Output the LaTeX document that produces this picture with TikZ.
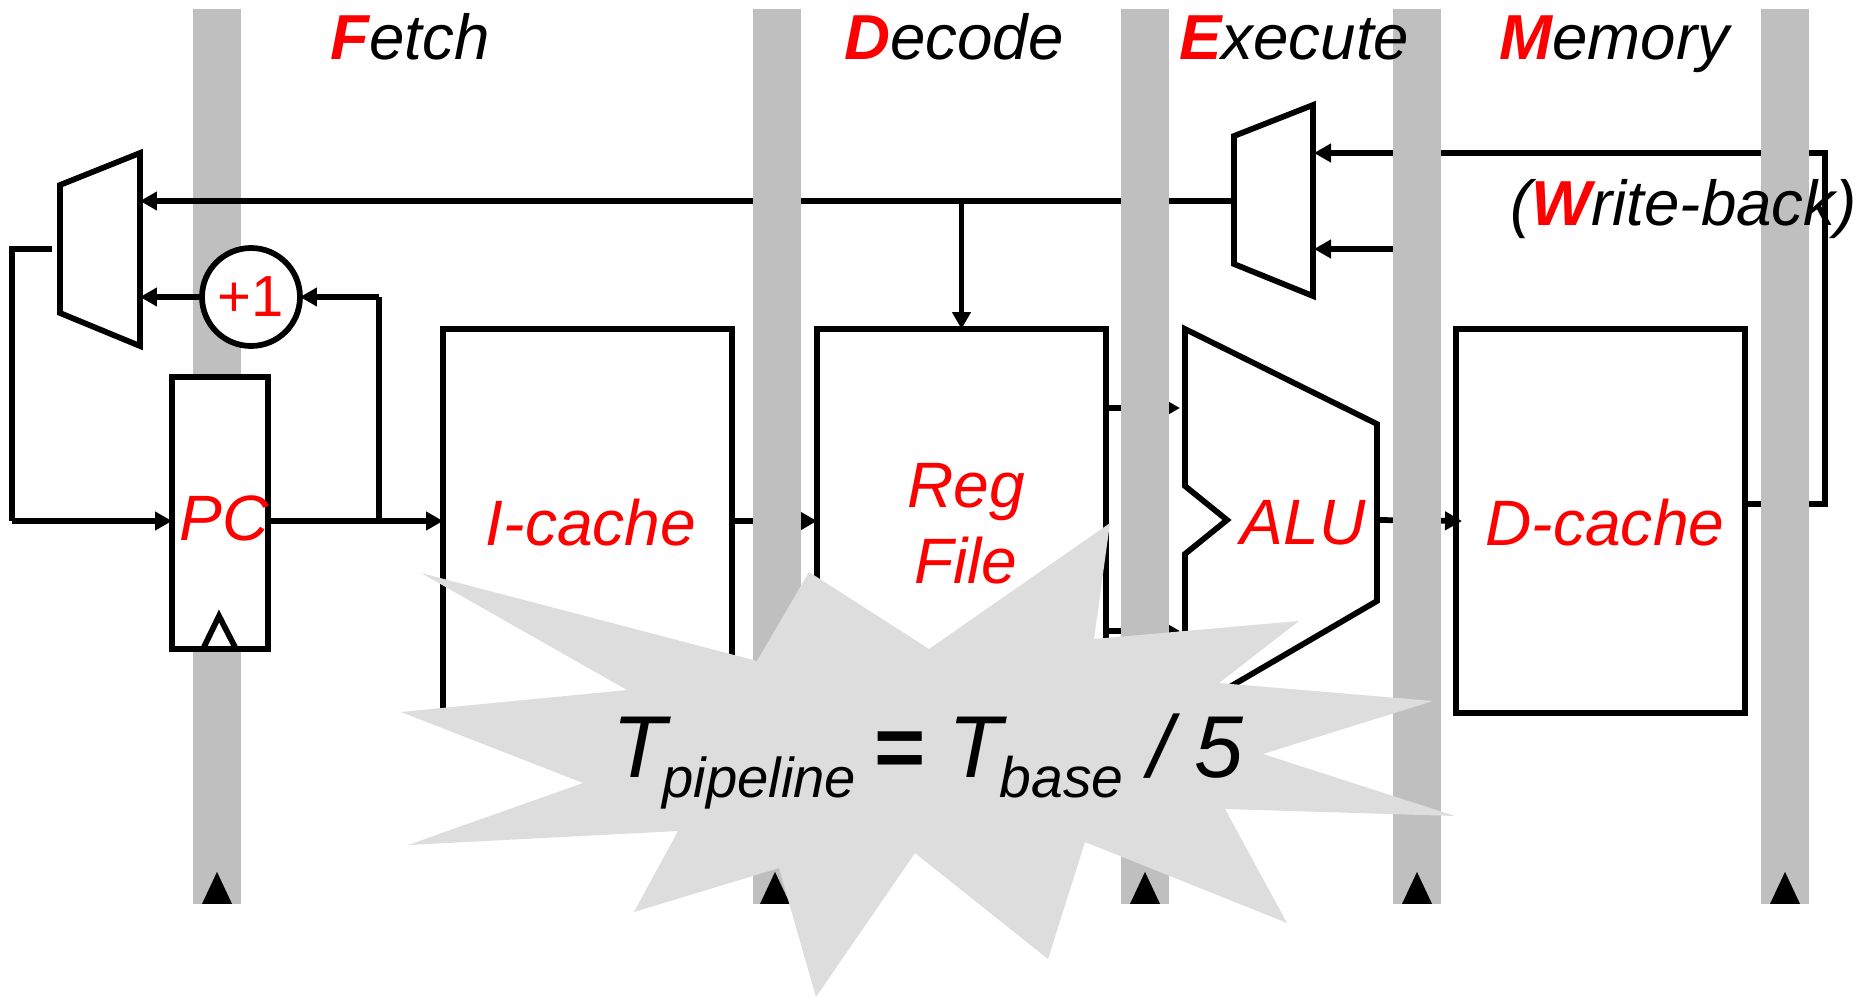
\documentclass[tikz,border=0pt]{standalone}
\usepackage{fontspec}
\setmainfont{Liberation Sans}
\usetikzlibrary{arrows.meta}
\definecolor{latchgray}{HTML}{BFBFBF}
\definecolor{burstgray}{HTML}{DDDDDD}
\tikzset{
  >={Triangle[length=0.34cm,width=0.36cm]},
  wire/.style={draw, line width=0.115cm},
  block/.style={rectangle, draw=black, fill=white, line width=0.115cm, inner sep=0pt, outer sep=0pt},
  cachebox/.style={block, minimum width=5.78cm, minimum height=7.68cm},
  blocktext/.style={text=red, inner sep=0pt, align=center, font=\fontsize{36.5}{43.5}\selectfont\itshape},
  latch/.style={rectangle, fill=latchgray, inner sep=0pt, outer sep=0pt, minimum width=0.96cm, minimum height=17.9cm},
  stage/.style={anchor=base west, inner sep=0pt, font=\fontsize{36.2}{43}\selectfont\itshape},
  muxshape/.style={draw, fill=white, line width=0.115cm, line join=miter}
}
\newcommand{\stageletter}[1]{\textcolor{red}{\bfseries #1}}
\begin{document}
\begin{tikzpicture}[x=0.02cm,y=-0.02cm]
    \useasboundingbox (0,0) rectangle (1860,997);
    % First latch sits under the PC
    \node (latchf) [latch] at (217,456.5) {};
    % Muxes
    \draw [muxshape] (60,185) -- (140,153) -- (140,346) -- (60,313) -- cycle;
    \draw [muxshape] (1234,136) -- (1313,105) -- (1313,296) -- (1234,264) -- cycle;
    \coordinate (pcmuxout) at (52,249);
    \coordinate (pcmuxtop) at (140,201);
    \coordinate (pcmuxlow) at (140,297);
    \coordinate (wbmuxout) at (1234,201);
    \coordinate (wbmuxtop) at (1314,153);
    \coordinate (wbmuxlow) at (1314,249);
    \coordinate (wbstub) at (1418,249);
    \coordinate (wbbottom) at (1825,504);
    \coordinate (wbtop) at (1825,153);
    \coordinate (pcloop) at (12,249);
    \coordinate (nextpc) at (379,297);
    % Blocks
    \node (pc) [block, minimum width=1.92cm, minimum height=5.44cm] at (220,513) {};
    \node (pctext) [blocktext] at (224,518) {PC};
    \draw [line width=0.115cm] (203,649) -- (219,616) -- (236,649);
    \node (plusone) [circle, draw, fill=white, line width=0.115cm, minimum size=1.96cm, inner sep=0pt, outer sep=0pt,
                     text=red, font=\fontsize{33}{40}\selectfont] at (251,297) {+1};
    \node (icache) [cachebox] at (587.5,521) {};
    \node (icachetext) [blocktext] at (591,523) {I-cache};
    \node (regfile) [cachebox] at (961.5,521) {};
    \node (regfiletext) [blocktext] at (966,524) {Reg\\File};
    \node (dcache) [cachebox] at (1600.5,521) {};
    \node (dcachetext) [blocktext] at (1605,523) {D-cache};
    \draw [muxshape] (1185,329) -- (1377,424) -- (1377,601) -- (1185,713) -- (1185,554) -- (1227,520) -- (1185,486) -- cycle;
    \node (alu) [blocktext] at (1303,523) {ALU};
    \coordinate (aluone) at (1180,408);
    \coordinate (alutwo) at (1180,631);
    \coordinate (aluout) at (1378,520);
    % Connectors
    \draw [wire] (pcmuxout) -- (pcloop) -- (pcloop |- icache) edge [wire, ->] (pc.west |- icache);
    \draw [wire, ->] (pc.east |- icache) -- (icache.west);
    \draw [wire] (nextpc |- icache) -- (nextpc);
    \draw [wire, ->] (nextpc) -- (plusone.east);
    \draw [wire, ->] (plusone.west) -- (pcmuxlow);
    \draw [wire, ->] (wbmuxout) -- (pcmuxtop);
    \draw [wire, ->] (regfile.north |- wbmuxout) -- (regfile.north);
    \draw [wire, ->] (icache.east) -- (regfile.west);
    \draw [wire, ->] (regfile.east |- aluone) -- (aluone);
    \draw [wire, ->] (regfile.east |- alutwo) -- (alutwo);
    \draw [wire, ->, shorten >=-0.12cm] (aluout) -- (dcache.west);
    \draw [wire, ->] (dcache.east |- wbbottom) -- (wbbottom) -- (wbtop) -- (wbmuxtop);
    \draw [wire, ->] (wbstub) -- (wbmuxlow);
    % Other latches
    \node (latchd) [latch] at (777,456.5) {};
    \node (latche) [latch] at (1145,456.5) {};
    \node (latchm) [latch] at (1417,456.5) {};
    \node (latchw) [latch] at (1785,456.5) {};
    \fill (latchf.south) ++(-15,0) -- ++(15,-32) -- ++(15,32) -- cycle;
    \fill (latchd.south) ++(-17,0) -- ++(15,-32) -- ++(15,32) -- cycle;
    \fill (latche.south) ++(-15,0) -- ++(15,-32) -- ++(15,32) -- cycle;
    \fill (latchm.south) ++(-15,0) -- ++(15,-32) -- ++(15,32) -- cycle;
    \fill (latchw.south) ++(-15,0) -- ++(15,-32) -- ++(15,32) -- cycle;
    % Stage names
    \node (fetch) [stage] at (330,60) {\stageletter{F}etch};
    \node (decode) [stage] at (844,60) {\stageletter{D}ecode};
    \node (execute) [stage] at (1179,60) {\stageletter{E}xecute};
    \node (memory) [stage] at (1499,60) {\stageletter{M}emory};
    \node (writeback) [stage] at (1510,225) {(\stageletter{W}rite-back)};
    % Burst
    \fill [burstgray] (421,573) -- (757,661) -- (809,572) -- (929,649) -- (1110,523) -- (1094,639)
          -- (1299,621) -- (1219,683) -- (1433,701) -- (1263,754) -- (1455,816) -- (1225,809)
          -- (1287,923) -- (1085,842) -- (1048,959) -- (915,853) -- (816,997) -- (779,868)
          -- (634,912) -- (678,831) -- (408,845) -- (583,783) -- (401,712) -- (627,690) -- cycle;
    \node (speedup) [anchor=base west, inner sep=0pt, font=\fontsize{50}{60}\selectfont\itshape] at (612,777)
          {T\kern-2pt\raisebox{-11.4pt}{\fontsize{32}{38}\selectfont pipeline}\kern10.5pt{\upshape\bfseries =}\kern13pt T\kern-1.5pt\raisebox{-11.4pt}{\fontsize{32.5}{38}\selectfont base}\kern14pt/\kern12.5pt5};
\end{tikzpicture}
\end{document}
